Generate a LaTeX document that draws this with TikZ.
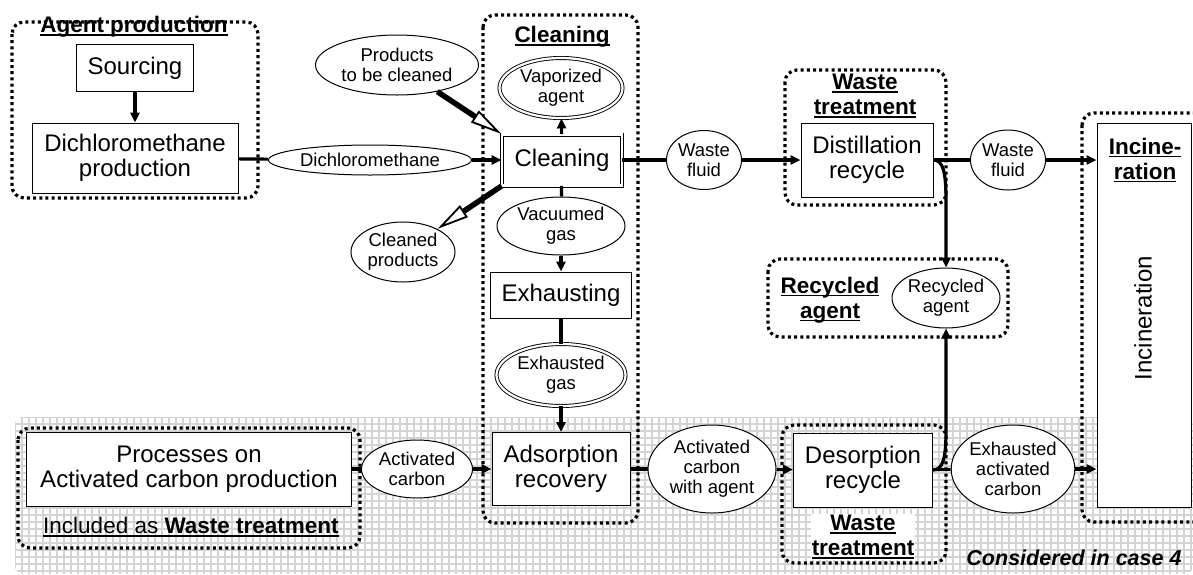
\documentclass[tikz,border=0pt]{standalone}
\usepackage{fontspec}
\setmainfont{Liberation Sans}
\usetikzlibrary{shapes.geometric,arrows.meta}

\newsavebox{\ulsave}
\newcommand{\ulined}[1]{\sbox{\ulsave}{#1}\rlap{\rule[-3pt]{\wd\ulsave}{1.3pt}}\usebox{\ulsave}}
\newcommand{\bigtxt}{\fontsize{24}{25}\selectfont}
\newcommand{\smtxt}{\fontsize{18.5}{20}\selectfont}
\newcommand{\ttltxt}{\fontsize{22.5}{25}\selectfont\bfseries}

\tikzset{
  box/.style={draw, fill=white, line width=1pt, inner sep=0pt, align=center, font=\bigtxt},
  oval/.style={ellipse, draw, fill=white, line width=1pt, inner sep=0pt, align=center, font=\smtxt},
  dbl/.style={double, double distance=2.2pt, line width=0.9pt},
  grp/.style={line width=3.2pt, dash pattern=on 3pt off 3.2pt, rounded corners=12pt},
  flow/.style={line width=3.2pt},
  arr/.style={flow, -{Triangle[length=10pt,width=9pt]}},
  hollow/.style={line width=5.5pt, -{Triangle[length=32pt,width=14pt,line width=1.8pt,fill=white]}},
  ttl/.style={font=\ttltxt, align=center, inner sep=0pt},
  gridln/.style={draw=black!17, line width=2.2pt}
}

\begin{document}
\begin{tikzpicture}[x=1pt,y=-1pt]
\useasboundingbox (0,0) rectangle (1193,574);

% hatched background of the lower band
\begin{scope}
  \clip[rounded corners=8pt] (15,417) rectangle (1193,574);
  \foreach \gx in {15,22,...,1193} \draw[gridln] (\gx,417) -- (\gx,574);
  \foreach \gy in {417,424,...,574} \draw[gridln] (15,\gy) -- (1193,\gy);
\end{scope}

% dotted process groups
\draw[grp] (12,22) rectangle (258,198);
\draw[grp] (483,15) rectangle (638,523);
\draw[grp] (785,70) rectangle (946,205);
\draw[grp] (768,259) rectangle (1008,337);
\draw[grp] (1082,113) rectangle (1215,522);
\draw[grp] (18,428) rectangle (360,548);
\draw[grp] (782,425) rectangle (946,563);

% process boxes
\node[box, minimum width=117pt, minimum height=47pt] (src) at (135,68) {Sourcing};
\node[box, minimum width=206pt, minimum height=70pt] (dcmp) at (135,158) {Dichloromethane\\production};
\node[box, dbl, minimum width=120pt, minimum height=51pt] (clean) at (562,160) {Cleaning};
\node[box, minimum width=141pt, minimum height=46pt] (exh) at (561,295) {Exhausting};
\node[box, minimum width=138pt, minimum height=73pt] (ads) at (561,469) {Adsorption\\recovery};
\node[box, minimum width=132pt, minimum height=74pt] (dist) at (867,160) {Distillation\\recycle};
\node[box, minimum width=139pt, minimum height=74pt] (des) at (863,470) {Desorption\\recycle};
\node[box, minimum width=325pt, minimum height=74pt] (acp) at (189,469) {Processes on\\Activated carbon production};
\node[box, minimum width=94pt, minimum height=384pt] (inc) at (1144,315) {};
\node[font=\bigtxt, rotate=90, inner sep=0pt] (inctxt) at (1143,318) {Incineration};

% flow ellipses
\node[oval, minimum width=203pt, minimum height=30pt] (dcm) at (370,160) {Dichloromethane};
\node[oval, minimum width=163pt, minimum height=60pt] (prod) at (397,65) {Products\\to be cleaned};
\node[oval, minimum width=104pt, minimum height=60pt] (cprod) at (403,252) {Cleaned\\products};
\node[oval, dbl, minimum width=123pt, minimum height=60pt] (vap) at (561,88) {Vaporized\\agent};
\node[oval, minimum width=128pt, minimum height=58pt] (vac) at (561,226) {Vacuumed\\gas};
\node[oval, dbl, minimum width=129pt, minimum height=62pt] (exg) at (561,375) {Exhausted\\gas};
\node[oval, minimum width=75pt, minimum height=59pt] (wf1) at (704,160) {Waste\\fluid};
\node[oval, minimum width=75pt, minimum height=60pt] (wf2) at (1008,160) {Waste\\fluid};
\node[oval, minimum width=108pt, minimum height=60pt] (recy) at (946,298) {Recycled\\agent};
\node[oval, minimum width=111pt, minimum height=58pt] (ac) at (417,469) {Activated\\carbon};
\node[oval, minimum width=128pt, minimum height=88pt] (acwa) at (712,469) {Activated\\carbon\\with agent};
\node[oval, minimum width=123pt, minimum height=88pt] (eac) at (1013,469) {Exhausted\\activated\\carbon};

% group titles
\node[ttl] (tagent) at (134,27) {\ulined{Agent production}};
\node[ttl] (tclean) at (562,37) {\ulined{Cleaning}};
\node[ttl] (twt1) at (865,96) {\ulined{Waste}\\\ulined{treatment}};
\node[ttl] (trec) at (830,300) {\ulined{Recycled}\\\ulined{agent}};
\node[ttl] (tinc) at (1145,160) {\ulined{Incine-}\\\ulined{ration}};
\node[ttl, fill=white, inner sep=1pt] (twt2) at (863,537) {\ulined{Waste}\\\ulined{treatment}};
\node[inner sep=0pt, font=\fontsize{22.5}{25}\selectfont] (tincl) at (191,527) {\ulined{Included as \textbf{Waste treatment}}};
\node[inner sep=0pt, font=\fontsize{21.5}{24}\selectfont\bfseries\itshape] (tcase) at (1074,558) {Considered in case 4};

% connectors
\draw[arr] (src) -- (dcmp);
\draw[flow] (dcmp) -- (dcm);
\draw[arr] (dcm) -- (clean);
\draw[hollow] (prod) -- (clean.north west);
\draw[hollow] (clean.south west) -- (cprod);
\draw[arr] (clean) -- (vap);
\draw[flow] (clean) -- (vac);
\draw[arr] (vac) -- (exh);
\draw[flow] (exh) -- (exg);
\draw[arr] (exg) -- (ads);
\draw[flow] (clean) -- (wf1);
\draw[arr] (wf1) -- (dist);
\draw[flow] (dist) -- (wf2);
\draw[arr] (wf2) -- (wf2 -| inc.west);
\draw[arr] (dist.east) .. controls (943,160) and (946,172) .. (946,200) -- (recy.north);
\draw[arr] (des.east) .. controls (943,470) and (946,458) .. (946,430) -- (recy.south);
\draw[flow] (acp) -- (ac);
\draw[arr] (ac) -- (ads);
\draw[flow] (ads) -- (acwa);
\draw[arr] (acwa) -- (des);
\draw[flow] (des) -- (eac);
\draw[arr] (eac) -- (eac -| inc.west);
\end{tikzpicture}
\end{document}
